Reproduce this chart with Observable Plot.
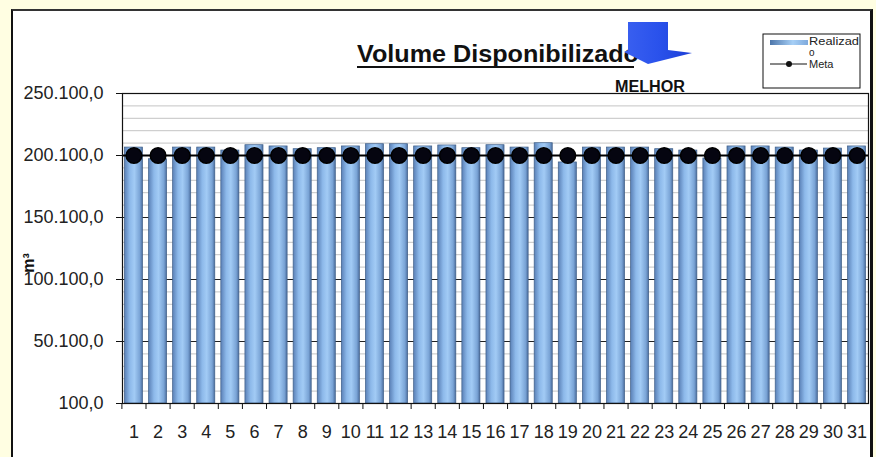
<!DOCTYPE html>
<html><head><meta charset="utf-8">
<script src="https://cdn.jsdelivr.net/npm/d3@7"></script>
<script src="https://cdn.jsdelivr.net/npm/@observablehq/plot@0.6"></script>
<style>
html,body{margin:0;padding:0;background:#fffee2;width:876px;height:457px;overflow:hidden;font-family:Arial,"Liberation Sans",sans-serif}
#frame{position:absolute;left:11px;top:9px;width:857px;height:460px;background:#fff;border-left:2px solid #111;border-top:2px solid #333;border-right:3px solid #111;}
#chart{position:absolute;left:0;top:0}
#deco{position:absolute;left:0;top:0;pointer-events:none}
</style></head><body>
<div id="frame"></div>
<div id="chart"></div>
<svg id="deco" width="876" height="457" font-family="Arial, 'Liberation Sans', sans-serif">
  <defs>
    <linearGradient id="gArrow" x1="0" x2="1" y1="0" y2="0">
      <stop offset="0" stop-color="#3a60f0"/>
      <stop offset="0.5" stop-color="#2a52ec"/>
      <stop offset="1" stop-color="#1d3fd6"/>
    </linearGradient>
    <linearGradient id="gLeg" x1="0" x2="1" y1="0" y2="0">
      <stop offset="0" stop-color="#4d76aa"/>
      <stop offset="0.6" stop-color="#a6cff6"/>
      <stop offset="1" stop-color="#7ea9dc"/>
    </linearGradient>
  </defs>
  <text id="title" x="357" y="62" font-weight="bold" font-size="23" textLength="282" lengthAdjust="spacingAndGlyphs" fill="#111">Volume Disponibilizado</text>
  <line x1="357" y1="67" x2="634" y2="67" stroke="#111" stroke-width="2"/>
  <polygon points="628,22 668,22 668,50 692,53 648,64 624,52 628,50" fill="url(#gArrow)"/>
  <text x="650" y="92" text-anchor="middle" font-weight="bold" font-size="16" textLength="70" lengthAdjust="spacingAndGlyphs" fill="#111">MELHOR</text>
  <rect x="763" y="34" width="97" height="54" fill="#fff" stroke="#111" stroke-width="1"/>
  <rect x="770" y="40" width="38" height="5" fill="url(#gLeg)"/>
  <text x="809" y="45" font-size="11" textLength="50" lengthAdjust="spacingAndGlyphs" fill="#222">Realizad</text>
  <text x="809" y="56" font-size="10" fill="#222">o</text>
  <line x1="770" y1="64" x2="807" y2="64" stroke="#111" stroke-width="1"/>
  <circle cx="789" cy="64" r="3" fill="#111"/>
  <text x="809" y="67.5" font-size="11" fill="#222">Meta</text>
  <text transform="translate(34,263) rotate(-90)" text-anchor="middle" font-size="16" font-weight="bold" fill="#111">m³</text>
</svg>
<script>
const dias = ["1","2","3","4","5","6","7","8","9","10","11","12","13","14","15","16","17","18","19","20","21","22","23","24","25","26","27","28","29","30","31"];
const realizado = [206500,197100,206500,206500,204100,208400,207400,205200,206000,207400,209200,209200,207400,208200,206000,208400,206500,210000,194500,206500,206500,206500,205200,204100,197700,207400,207400,206500,204100,205700,207400];
const meta = [200100,200100,200100,200100,200100,200100,200100,200100,200100,200100,200100,200100,200100,200100,200100,200100,200100,200100,200100,200100,200100,200100,200100,200100,200100,200100,200100,200100,200100,200100,200100];
const yTicks = [100,50100,100100,150100,200100,250100];
const yMinorTicks = [10100,20100,30100,40100,60100,70100,80100,90100,110100,120100,130100,140100,160100,170100,180100,190100,210100,220100,230100,240100];

const data = dias.map((d,i)=>({dia:d, realizado:realizado[i], meta:meta[i]}));
const fmt = d3.formatLocale({decimal:",", thousands:".", grouping:[3], currency:["R$",""]}).format(",.1f");

const W = 876, H = 457, mL = 122, mR = 8, mT = 93, mB = 54;
const pIn = 0.25, pOut = 0.1;
const step = (W - mL - mR) / (dias.length - pIn + 2 * pOut);

const chart = Plot.plot({
  width: W, height: H,
  marginLeft: mL, marginRight: mR, marginTop: mT, marginBottom: mB,
  x: {type: "band", domain: dias, paddingInner: pIn, paddingOuter: pOut, round: false, label: null},
  y: {domain: [100, 250100], label: null},
  style: {fontFamily: "Arial, 'Liberation Sans', sans-serif", fontSize: "18px", background: "transparent", color: "#222", overflow: "visible"},
  marks: [
    Plot.ruleY(yMinorTicks, {stroke: "#c4c4c4", strokeWidth: 1}),
    Plot.ruleY(yTicks, {stroke: "#222", strokeWidth: 1}),
    Plot.barY(data, {x: "dia", y1: 100, y2: "realizado", fill: "url(#gBar)", stroke: "#3f5f88", strokeWidth: 0.7}),
    Plot.ruleY(data.slice(0,1), {y: "meta", stroke: "#000", strokeWidth: 2}),
    Plot.dot(data, {x: "dia", y: "meta", r: 7.8, fill: "#050510", stroke: "#000"}),
    Plot.frame({stroke: "#111", strokeWidth: 1.2}),
    Plot.axisY({ticks: yTicks, tickSize: 6, tickPadding: 13, tickFormat: fmt, fontSize: 18, stroke: "#111"}),
    Plot.axisX({tickSize: 6, tickFormat: () => "", dx: -step/2, stroke: "#111"}),
    Plot.axisX({tickSize: 0, tickPadding: 22, fontSize: 18})
  ]
});

const defs = d3.select(chart).insert("defs", ":first-child");
const g = defs.append("linearGradient").attr("id","gBar").attr("x1","0").attr("x2","1").attr("y1","0").attr("y2","0");
g.append("stop").attr("offset","0").attr("stop-color","#5a80b6");
g.append("stop").attr("offset","0.3").attr("stop-color","#8db9ea");
g.append("stop").attr("offset","0.55").attr("stop-color","#a2cbf5");
g.append("stop").attr("offset","0.85").attr("stop-color","#7aa4d6");
g.append("stop").attr("offset","1").attr("stop-color","#4b6d9e");

document.getElementById("chart").appendChild(chart);
</script>
</body></html>
